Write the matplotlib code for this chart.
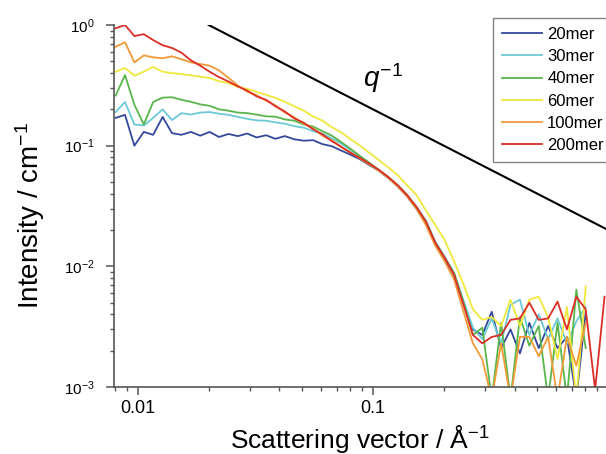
import numpy as np
import matplotlib
matplotlib.use("Agg")
import matplotlib.pyplot as plt

plt.rcParams["font.family"] = ["Liberation Sans", "DejaVu Sans"]
plt.rcParams["mathtext.fontset"] = "custom"
plt.rcParams["mathtext.rm"] = "Liberation Sans"
plt.rcParams["mathtext.it"] = "Liberation Sans:italic"

# scattering vector (1/A), shared by all curves
q = [0.00804, 0.00881, 0.00966, 0.01059, 0.01161, 0.01274, 0.01396, 0.01531, 0.01679, 0.01841,
     0.02018, 0.02213, 0.02427, 0.02661, 0.02917, 0.03199, 0.03508, 0.03846, 0.04217, 0.04624,
     0.05070, 0.05559, 0.06095, 0.06683, 0.07328, 0.08035, 0.08810, 0.09661, 0.1059, 0.1161,
     0.1274, 0.1396, 0.1531, 0.1679, 0.1841, 0.2018, 0.2213, 0.2427, 0.2661, 0.2917,
     0.3199, 0.3508, 0.3846, 0.4217, 0.4624, 0.5070, 0.5559, 0.6095, 0.6683, 0.7328,
     0.8035, 0.8810, 0.9661]

# intensities (1/cm)
i_20 = [0.17, 0.18, 0.10, 0.13, 0.123, 0.173, 0.127, 0.123, 0.13, 0.121, 0.13, 0.118, 0.125,
        0.12, 0.126, 0.117, 0.122, 0.114, 0.12, 0.113, 0.11, 0.111, 0.103, 0.099, 0.091, 0.084, 0.077, 0.069,
        0.062, 0.054, 0.046, 0.038, 0.030, 0.023, 0.0155, 0.0115, 0.0085, 0.0050, 0.0030,
        0.0027, 0.0042, 0.0021, 0.0030, 0.0019, 0.0034, 0.0021, 0.0032, 0.0021, 0.0026, 0.0008, 0.0042]
i_30 = [0.19, 0.23, 0.15, 0.147, 0.17, 0.20, 0.163, 0.186, 0.181, 0.188, 0.19, 0.184, 0.18,
        0.173, 0.167, 0.162, 0.161, 0.156, 0.152, 0.145, 0.141, 0.132, 0.126, 0.115, 0.104, 0.092, 0.081, 0.071,
        0.062, 0.054, 0.047, 0.039, 0.031, 0.024, 0.016, 0.012, 0.0088, 0.0052, 0.0031,
        0.0025, 0.0037, 0.0023, 0.0048, 0.0053, 0.0027, 0.0040, 0.0025, 0.0037, 0.0023, 0.0035, 0.0046]
i_40 = [0.26, 0.385, 0.218, 0.15, 0.23, 0.25, 0.252, 0.24, 0.231, 0.22, 0.214, 0.20, 0.195,
        0.188, 0.186, 0.181, 0.175, 0.174, 0.165, 0.161, 0.15, 0.144, 0.132, 0.121, 0.107, 0.094, 0.082, 0.072,
        0.063, 0.055, 0.047, 0.039, 0.031, 0.0235, 0.0157, 0.0118, 0.0088, 0.0050, 0.0027,
        0.0031, 0.0008, 0.0034, 0.0008, 0.0038, 0.0022, 0.0032, 0.0008, 0.0034, 0.0008, 0.0064, 0.0021]
i_60 = [0.41, 0.44, 0.38, 0.41, 0.45, 0.41, 0.40, 0.392, 0.383, 0.372, 0.364, 0.342, 0.33,
        0.306, 0.296, 0.279, 0.264, 0.248, 0.231, 0.212, 0.195, 0.175, 0.161, 0.142, 0.129, 0.113, 0.10, 0.087,
        0.076, 0.066, 0.057, 0.047, 0.039, 0.029, 0.022, 0.0165, 0.011, 0.0071, 0.0044,
        0.0036, 0.0038, 0.0032, 0.0053, 0.0032, 0.0053, 0.0056, 0.0038, 0.0017, 0.0046, 0.0008, 0.0068]
i_100 = [0.66, 0.72, 0.49, 0.56, 0.54, 0.53, 0.55, 0.52, 0.49, 0.475, 0.46, 0.42, 0.365,
         0.315, 0.28, 0.262, 0.236, 0.216, 0.188, 0.172, 0.152, 0.139, 0.121, 0.111, 0.097, 0.088, 0.078, 0.070,
         0.062, 0.054, 0.046, 0.038, 0.030, 0.022, 0.0148, 0.011, 0.0078, 0.0042, 0.0023,
         0.0017, 0.0008, 0.0023, 0.0008, 0.0026, 0.0026, 0.0018, 0.0026, 0.0008, 0.0026, 0.0015, 0.0034]
i_200 = [0.94, 1.0, 0.81, 0.84, 0.75, 0.68, 0.645, 0.59, 0.51, 0.46, 0.41, 0.37, 0.34,
         0.31, 0.286, 0.256, 0.24, 0.212, 0.192, 0.168, 0.155, 0.137, 0.124, 0.109, 0.098, 0.087, 0.079, 0.071,
         0.063, 0.055, 0.047, 0.039, 0.031, 0.0235, 0.0157, 0.0118, 0.0085, 0.0048, 0.0027,
         0.0023, 0.0026, 0.0027, 0.0036, 0.0037, 0.0050, 0.0036, 0.0037, 0.0051, 0.0030, 0.0056, 0.0044, 0.00095, 0.0056]

labels = ["20mer", "30mer", "40mer", "60mer", "100mer", "200mer"]
series = [i_20, i_30, i_40, i_60, i_100, i_200]
colors = ["#34489c", "#6ccad6", "#58b64c", "#f0e83c", "#f29a38", "#dc2e26"]

# q^-1 guide line
guide_q = [0.02, 1.0]
guide_i = [1.0, 0.02]

fig = plt.figure(figsize=(6.06, 4.54), dpi=100)
ax = fig.add_axes([114 / 606, 1 - 387 / 454, 1 - 114 / 606, (387 - 25) / 454])

for vals, lab, col in zip(series, labels, colors):
    ax.plot(q[:len(vals)], vals, color=col, lw=1.3, label=lab)

ax.plot(guide_q, guide_i, color="black", lw=1.5)
ax.text(0.0906, 0.306, "$q^{-1}$", fontsize=20, ha="left", va="baseline")

ax.set_xscale("log")
ax.set_yscale("log")
ax.set_xlim(0.00791, 0.98)
ax.set_ylim(1e-3, 1)

for s in ["top", "right"]:
    ax.spines[s].set_visible(False)
for s in ["left", "bottom"]:
    ax.spines[s].set_color("#555555")
    ax.spines[s].set_linewidth(1.2)
ax.tick_params(which="major", length=6, width=1.1, color="#555555")
ax.tick_params(which="minor", length=3, width=1.0, color="#555555")
ax.tick_params(axis="x", labelsize=13)
ax.tick_params(axis="y", labelsize=11, pad=8)
ax.set_xticks([0.01, 0.1])
ax.set_xticklabels(["0.01", "0.1"])

ax.set_xlabel("Scattering vector / Å$^{-1}$", fontsize=19, labelpad=4)
ax.set_ylabel("Intensity / cm$^{-1}$", fontsize=20)
ax.yaxis.set_label_coords(-0.136, 0.475)

leg = ax.legend(loc="upper left", bbox_to_anchor=(493 / 606, 1 - 18 / 454),
                bbox_transform=fig.transFigure, fontsize=12, frameon=True,
                fancybox=False, borderpad=0.55, borderaxespad=0, handlelength=2.4,
                handletextpad=0.3, labelspacing=0.43)
leg.get_frame().set_edgecolor("#666666")
leg.get_frame().set_linewidth(1.0)

fig.savefig("out.png", dpi=100)
